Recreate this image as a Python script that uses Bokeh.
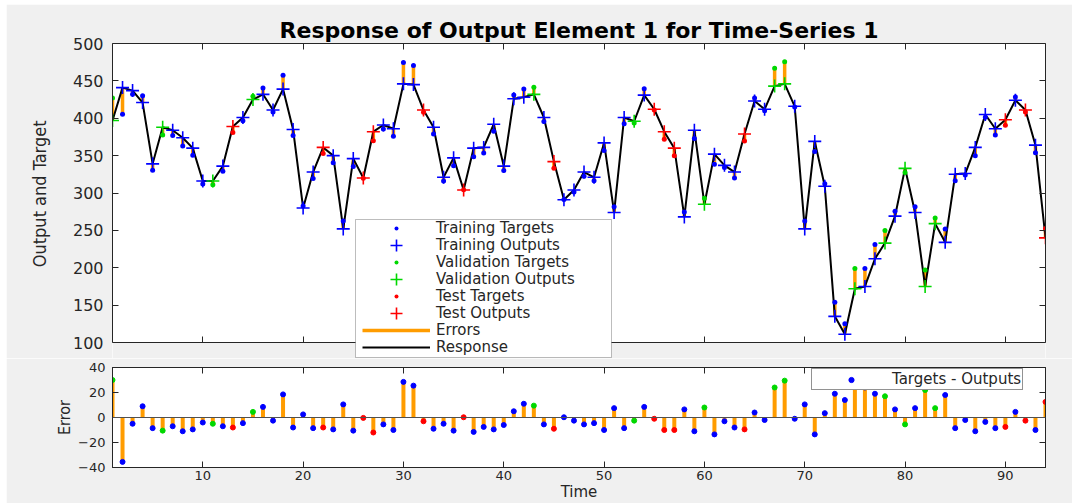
import numpy as np
from bokeh.plotting import figure
from bokeh.models import (ColumnDataSource, Legend, LegendItem, LinearAxis,
                          FixedTicker, Range1d, Span, BoxAnnotation, Title)
from bokeh.layouts import column
from bokeh.embed import file_html
from bokeh.resources import INLINE

# ---------------- data ----------------
time_steps = list(range(1, 95))

outputs = [397, 441, 437, 421, 339, 388, 384, 374, 360, 316,
           316, 336, 389, 401, 425, 432, 411, 439, 385, 280,
           328, 361, 350, 252, 346, 320, 382, 391, 386, 446,
           445, 411, 388, 321, 347, 304, 360, 361, 392, 336,
           426, 428, 432, 401, 342, 291, 304, 328, 321, 367,
           274, 401, 396, 431, 412, 382, 360, 268, 384, 285,
           352, 337, 328, 379, 423, 412, 443, 446, 416, 252,
           369, 309, 135, 111, 172, 175, 212, 233, 269, 333,
           274, 175, 259, 234, 325, 326, 361, 405, 386, 398,
           424, 411, 364, 240]

errors = [30, -35.5, -5, 9, -8.5, -10.5, -7, -11, -9.5, -4,
          -5, -7, -8, -4.5, 4.5, 8.5, -2.5, 18.5, -8, 2.5,
          -8.5, -8, -9.5, 10.5, -10.5, -0.3, -12, -5.5, -10, 28.5,
          25.5, -3, -9, -5, -10.5, 0.2, -11.5, -7.5, -9.5, -6,
          5, 11, 9.5, -5.5, -9, 0.2, -2.5, -5.5, -4.5, -10,
          7.5, -8.5, -2.5, 8.5, -1, -10, -10, 6.5, -11, 8,
          -13.5, -3, -8, -9.5, 4, -2, 24, 29.5, -1, 10.5,
          -13.5, 3.5, 19, 14, 27, 24, 19, 17, 6.5, -5.5,
          7.5, 22, 7.5, 18, -8.5, -2, -11, -3.5, -8.5, -7.5,
          4.5, -2.5, -10, 12.5]

validation_steps = [1, 6, 11, 15, 43, 53, 60, 67, 68, 75, 78, 80, 82, 83]
test_steps = [13, 22, 26, 27, 32, 36, 45, 55, 56, 57, 64, 90, 92, 94]

x_ticks = [10, 20, 30, 40, 50, 60, 70, 80, 90]
y_ticks_top = [100, 150, 200, 250, 300, 350, 400, 450, 500]
y_ticks_bottom = [-40, -20, 0, 20, 40]

targets = [o + e for o, e in zip(outputs, errors)]


def subset_group(name):
    if name == "val":
        keep = [t in validation_steps for t in time_steps]
    elif name == "test":
        keep = [t in test_steps for t in time_steps]
    else:
        keep = [(t not in validation_steps and t not in test_steps) for t in time_steps]
    idx = [i for i, k in enumerate(keep) if k]
    return ColumnDataSource(dict(
        t=[time_steps[i] for i in idx],
        out=[outputs[i] for i in idx],
        tgt=[targets[i] for i in idx],
        err=[errors[i] for i in idx],
    ))


BLUE = "#0000ff"
GREEN = "#00d800"
RED = "#ff0000"
ORANGE = "#ff9c00"
AX = "#262626"
BG = "#f0f0f0"
FONT = "DejaVu Sans"
NARROW = "Liberation Sans Narrow, DejaVu Sans Condensed, Arial Narrow, sans-serif"

groups = [("train", BLUE), ("val", GREEN), ("test", RED)]
sources = {g: subset_group(g) for g, _ in groups}
all_src = ColumnDataSource(dict(t=time_steps, out=outputs, tgt=targets, err=errors))


def style_axis(ax, ticks, size=None, show=True, line=True):
    ax.ticker = FixedTicker(ticks=ticks)
    ax.major_tick_in = 6
    ax.major_tick_out = 0
    ax.minor_tick_line_color = None
    ax.axis_line_color = AX if line else None
    ax.major_tick_line_color = AX
    ax.major_label_text_font = FONT
    if show:
        ax.major_label_text_font_size = size
        ax.major_label_text_color = AX
    else:
        ax.major_label_text_font_size = "1px"
        ax.major_label_text_color = None
        ax.major_label_standoff = 0


W = 1066
BL, BR = 104, 27

# ---------------- top figure ----------------
# the frame runs 16 px below the value 100 so the legend can overhang the axes box
PX_PER_UNIT = 299 / 400.0
y_lo = 100 - 16 / PX_PER_UNIT

p1 = figure(width=W, height=354, x_range=Range1d(1, 94), y_range=Range1d(y_lo, 500),
            output_backend="svg", toolbar_location=None,
            min_border_left=BL, min_border_right=BR, min_border_top=39, min_border_bottom=0,
            background_fill_color="white", border_fill_color=BG,
            outline_line_color=None)
p1.title.text = "Response of Output Element 1 for Time-Series 1"
p1.title.text_font = FONT
p1.title.text_font_style = "bold"
p1.title.text_font_size = "22px"
p1.title.align = "center"
p1.title.text_color = "#000000"
p1.title.standoff = 2
p1.xgrid.visible = False
p1.ygrid.visible = False

style_axis(p1.xaxis[0], x_ticks, show=False)
p1.xaxis[0].fixed_location = 100
style_axis(p1.yaxis[0], y_ticks_top, size="16px")
p1.yaxis[0].bounds = (100, 500)
p1.yaxis.major_label_standoff = 9

top_ax = LinearAxis()
style_axis(top_ax, x_ticks, show=False)
p1.add_layout(top_ax, "above")
right_ax = LinearAxis(bounds=(100, 500))
style_axis(right_ax, y_ticks_top, show=False)
p1.add_layout(right_ax, "right")

ylab = Title(text="Output and Target", align="right", offset=77, standoff=40,
             text_font=NARROW, text_font_size="18px", text_font_style="normal",
             text_color=AX)
p1.add_layout(ylab, "left")

# gray strip below the axes box (part of the window background)
p1.add_layout(BoxAnnotation(top=100, fill_color=BG, fill_alpha=1.0, line_color=None,
                            level="underlay"))

r_err = p1.segment(x0="t", y0="tgt", x1="t", y1="out", source=all_src,
                   line_color=ORANGE, line_width=3.5)
r_resp = p1.line(x="t", y="out", source=all_src, line_color="#000000", line_width=2)

dots = {}
crosses = {}
for g, c in groups:
    dots[g] = p1.scatter(x="t", y="tgt", source=sources[g], marker="dot", size=20,
                         line_color=c, fill_color=c)
for g, c in groups:
    crosses[g] = p1.scatter(x="t", y="out", source=sources[g], marker="cross", size=13,
                            line_color=c, line_width=1.6)

legend_rows = [
    ("Training Targets", dots["train"], "dot"),
    ("Training Outputs", crosses["train"], "cross"),
    ("Validation Targets", dots["val"], "dot"),
    ("Validation Outputs", crosses["val"], "cross"),
    ("Test Targets", dots["test"], "dot"),
    ("Test Outputs", crosses["test"], "cross"),
    ("Errors", r_err, "line"),
    ("Response", r_resp, "line"),
]

# legend box, in px from the frame's bottom-left corner
LB_L, LB_R, LB_B, LB_T = 243, 499, 1, 139
ROW0, PITCH, GW = 130, 17, 68
p1.add_layout(BoxAnnotation(left=LB_L, right=LB_R, bottom=LB_B, top=LB_T,
                            left_units="screen", right_units="screen",
                            bottom_units="screen", top_units="screen",
                            fill_color="white", fill_alpha=1.0,
                            line_color=AX, line_width=1))
for i, (lab, r, kind) in enumerate(legend_rows):
    gh = {"cross": 30, "dot": 40, "line": 20}[kind]
    cy = ROW0 - PITCH * i
    lg = Legend(items=[LegendItem(label=lab, renderers=[r])],
                location=(LB_L + 7, int(round(cy - gh / 2))), glyph_width=GW,
                glyph_height=gh, label_height=gh, padding=0, spacing=0,
                label_standoff=6, label_text_font=FONT, label_text_font_size="15px",
                label_text_color=AX, border_line_color=None,
                background_fill_alpha=0.0, margin=0)
    p1.add_layout(lg)

# ---------------- bottom figure ----------------
p2 = figure(width=W, height=145, x_range=Range1d(1, 94), y_range=Range1d(-40, 40),
            output_backend="svg", toolbar_location=None,
            min_border_left=BL, min_border_right=BR, min_border_top=9, min_border_bottom=20,
            background_fill_color="white", border_fill_color=BG,
            outline_line_color=AX)
p2.xgrid.visible = False
p2.ygrid.visible = False
style_axis(p2.xaxis[0], x_ticks, size="13px")
style_axis(p2.yaxis[0], y_ticks_bottom, size="13px")
p2.xaxis.major_label_standoff = 3
p2.yaxis.major_label_standoff = 7
p2.xaxis.axis_label = "Time"
p2.xaxis.axis_label_text_font = FONT
p2.xaxis.axis_label_text_font_size = "15px"
p2.xaxis.axis_label_text_font_style = "normal"
p2.xaxis.axis_label_text_color = AX
p2.xaxis.axis_label_standoff = 0
p2.yaxis.axis_label = "Error"
p2.yaxis.axis_label_text_font = NARROW
p2.yaxis.axis_label_text_font_size = "16px"
p2.yaxis.axis_label_text_font_style = "normal"
p2.yaxis.axis_label_text_color = AX
p2.yaxis.axis_label_standoff = 1
top_ax2 = LinearAxis()
style_axis(top_ax2, x_ticks, show=False)
p2.add_layout(top_ax2, "above")
right_ax2 = LinearAxis()
style_axis(right_ax2, y_ticks_bottom, show=False)
p2.add_layout(right_ax2, "right")

p2.add_layout(Span(location=0, dimension="width", line_color="#505050", line_width=1))
p2.segment(x0="t", y0=0, x1="t", y1="err", source=all_src, line_color=ORANGE, line_width=4)
edots = {}
for g, c in groups:
    edots[g] = p2.scatter(x="t", y="err", source=sources[g], marker="circle", size=5,
                          line_color=c, fill_color=c)

legend2 = Legend(items=[LegendItem(label="Targets - Outputs", renderers=[edots["train"]])],
                 location=(699, 77), glyph_width=76, glyph_height=13, padding=1,
                 label_standoff=3, label_text_font=FONT, label_text_font_size="15px",
                 label_text_color=AX, border_line_color=AX, border_line_width=1,
                 background_fill_color="white", background_fill_alpha=1.0, margin=0)
p2.add_layout(legend2)

layout = column(p1, p2, spacing=0, margin=(4, 0, 0, 6))
open("out.html", "w").write(file_html(layout, INLINE))
